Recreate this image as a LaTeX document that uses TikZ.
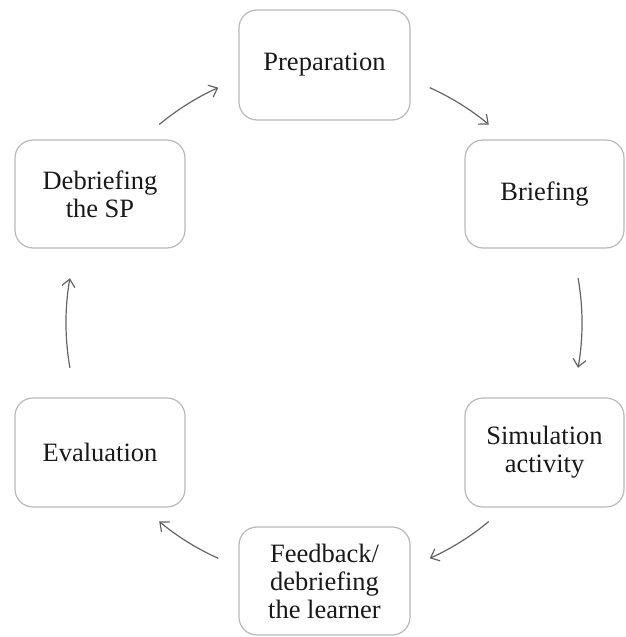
\documentclass[tikz,border=0pt]{standalone}
\usepackage{fontspec}
\setmainfont{Liberation Serif}
\usetikzlibrary{arrows.meta,calc}
\definecolor{boxline}{RGB}{185,185,185}
\definecolor{arrowgray}{RGB}{100,100,100}
\definecolor{textdark}{RGB}{25,25,25}
\begin{document}
\begin{tikzpicture}[x=1pt,y=-1pt,
  stage/.style={draw=boxline, line width=1.2pt, rounded corners=18pt, fill=white,
    align=center, inner sep=0pt, text=textdark,
    font=\fontsize{26.5}{28}\selectfont},
  cyclearrow/.style={draw=arrowgray, line width=1.2pt,
    -{Straight Barb[length=7.5pt,width=13pt,line width=1.2pt]}}]
  \useasboundingbox (0,0) rectangle (625,637);
  % stages of the cycle
  \node[stage, minimum width=171pt, minimum height=110pt] (prep)  at (324.5,65)  {Preparation};
  \node[stage, minimum width=159pt, minimum height=108pt] (brief) at (544.5,194) {Briefing};
  \node[stage, minimum width=159pt, minimum height=109pt] (sim)   at (544.5,452.5) {Simulation\\activity};
  \node[stage, minimum width=171pt, minimum height=108pt] (feed)  at (324.5,581) {Feedback/\\debriefing\\the learner};
  \node[stage, minimum width=170pt, minimum height=109pt] (eval)  at (100,452.5) {Evaluation};
  \node[stage, minimum width=170pt, minimum height=108pt] (debr)  at (100,194)   {Debriefing\\the SP};
  % arcs of a circle around the centre of the cycle
  \coordinate (c) at (324,323);
  \def\rad{258}
  \coordinate (a1) at ($(c)+(-65.8:\rad)$);
  \draw[cyclearrow] (a1) arc[start angle=-65.8, end angle=-50.3, radius=\rad];
  \coordinate (a2) at ($(c)+(-10:\rad)$);
  \draw[cyclearrow] (a2) arc[start angle=-10, end angle=10, radius=\rad];
  \coordinate (a3) at ($(c)+(50.3:\rad)$);
  \draw[cyclearrow] (a3) arc[start angle=50.3, end angle=65.8, radius=\rad];
  \coordinate (a4) at ($(c)+(114.2:\rad)$);
  \draw[cyclearrow] (a4) arc[start angle=114.2, end angle=129.7, radius=\rad];
  \coordinate (a5) at ($(c)+(170:\rad)$);
  \draw[cyclearrow] (a5) arc[start angle=170, end angle=190, radius=\rad];
  \coordinate (a6) at ($(c)+(230.3:\rad)$);
  \draw[cyclearrow] (a6) arc[start angle=230.3, end angle=245.8, radius=\rad];
\end{tikzpicture}
\end{document}
